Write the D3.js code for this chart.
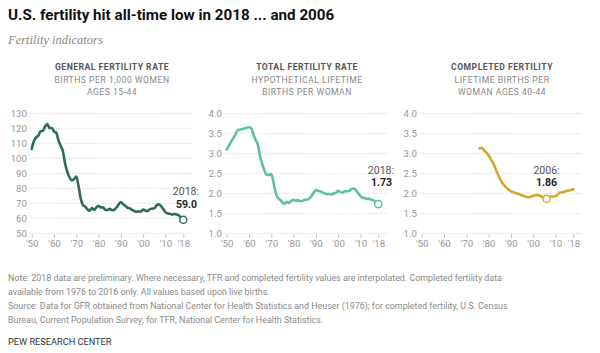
<!DOCTYPE html>
<html>
<head>
<meta charset="utf-8">
<script src="https://cdn.jsdelivr.net/npm/d3@7"></script>
<style>
  body { margin: 0; background: #fff; }
  svg text { font-family: Roboto, "Liberation Sans", sans-serif; }
</style>
</head>
<body>
<svg id="chart" width="600" height="353"></svg>
<script>
// --- data ---
let years = d3.range(1950, 2019);

let gfr = [106.2,111.5,113.9,115.2,118.1,118.3,121.2,122.9,120.2,120.2,
  118.0,117.1,112.0,108.3,104.7,96.3,90.8,87.2,85.2,86.1,
  87.9,81.6,73.1,68.8,67.8,66.0,65.0,66.8,65.5,67.2,
  68.4,67.3,67.3,65.7,65.5,66.3,65.4,65.7,67.2,69.2,
  70.9,69.3,68.4,67.0,66.7,65.6,64.9,64.3,64.6,64.4,
  65.9,65.1,64.8,66.1,66.4,66.7,68.6,69.3,68.1,66.2,
  64.1,63.2,63.0,62.5,62.9,62.5,62.0,60.3,59.0];

let tfr = [3.09,3.19,3.29,3.38,3.48,3.58,3.59,3.61,3.62,3.64,
  3.65,3.63,3.47,3.33,3.21,2.91,2.72,2.56,2.46,2.46,
  2.48,2.27,2.01,1.88,1.84,1.77,1.74,1.79,1.76,1.81,
  1.84,1.81,1.83,1.80,1.81,1.84,1.84,1.87,1.93,2.01,
  2.08,2.06,2.05,2.02,2.00,1.98,1.98,1.97,2.00,2.01,
  2.06,2.03,2.02,2.05,2.05,2.06,2.11,2.12,2.07,2.00,
  1.93,1.89,1.88,1.86,1.86,1.84,1.82,1.77,1.73];

let cfYears = d3.range(1976, 2019);
let cf = [3.12,3.14,3.07,3.02,2.95,2.85,2.76,2.63,2.50,2.38,
  2.27,2.20,2.14,2.09,2.05,2.03,2.01,1.99,1.97,1.95,
  1.93,1.91,1.90,1.92,1.94,1.95,1.96,1.94,1.91,1.88,
  1.86,1.89,1.92,1.92,1.93,1.97,2.02,2.03,2.04,2.06,
  2.07,2.08,2.10];

let xTicks = [1950,1960,1970,1980,1990,2000,2010,2018];
let gfrTicks = [50,60,70,80,90,100,110,120,130];
let rateTicks = [1.0,1.5,2.0,2.5,3.0,3.5,4.0];

let panels = [
  { x0: 0, head: ["GENERAL FERTILITY RATE","BIRTHS PER 1,000 WOMEN","AGES 15-44"],
    yrs: years, vals: gfr, domain: [50,130], ticks: gfrTicks, fmt: d3.format("d"),
    color: "#2e6b58", mark: 2018, markVal: 59.0, label: ["2018:","59.0"], anchor: "end" },
  { x0: 195, head: ["TOTAL FERTILITY RATE","HYPOTHETICAL LIFETIME","BIRTHS PER WOMAN"],
    yrs: years, vals: tfr, domain: [1,4], ticks: rateTicks, fmt: d3.format(".1f"),
    color: "#5cbfa8", mark: 2018, markVal: 1.73, label: ["2018:","1.73"], anchor: "end" },
  { x0: 390, head: ["COMPLETED FERTILITY","LIFETIME BIRTHS PER","WOMAN AGES 40-44"],
    yrs: cfYears, vals: cf, domain: [1,4], ticks: rateTicks, fmt: d3.format(".1f"),
    color: "#d4a82c", mark: 2006, markVal: 1.86, label: ["2006:","1.86"], anchor: "middle" }
];

let svg = d3.select("#chart");

svg.append("text").attr("x", 8).attr("y", 20)
  .style("font-size", "15.2px").style("font-weight", "bold").attr("fill", "#111")
  .text("U.S. fertility hit all-time low in 2018 ... and 2006");

svg.append("text").attr("x", 8).attr("y", 44)
  .style("font-family", "'Liberation Serif', serif").style("font-style", "italic")
  .style("font-size", "12.5px").attr("fill", "#888")
  .text("Fertility indicators");

panels.forEach(p => {
  let g = svg.append("g").attr("transform", "translate(" + p.x0 + ",0)");

  let x = d3.scaleLinear().domain([1950, 2018]).range([31.7, 183.3]);
  let y = d3.scaleLinear().domain(p.domain).range([233.3, 113.3]);

  // headings
  p.head.forEach((h, i) => {
    g.append("text").attr("x", 112).attr("y", 70 + i * 12.5)
      .attr("text-anchor", "middle")
      .style("font-size", "8.6px")
      .style("font-weight", i == 0 ? "bold" : "normal")
      .style("letter-spacing", "0.5px")
      .attr("fill", i == 0 ? "#555" : "#888")
      .text(h);
  });

  // gridlines + y labels
  g.selectAll(".grid").data(p.ticks).enter().append("line")
    .attr("x1", 30).attr("x2", 192)
    .attr("y1", d => y(d)).attr("y2", d => y(d))
    .attr("stroke", "#c8c8c8").attr("stroke-width", 0.9)
    .attr("stroke-dasharray", "1,1.6");

  g.selectAll(".ylab").data(p.ticks).enter().append("text")
    .attr("x", 27).attr("y", d => y(d) + 3.5)
    .attr("text-anchor", "end")
    .style("font-size", "9.7px").attr("fill", "#999")
    .text(d => p.fmt(d));

  // x axis
  let xAxis = d3.axisBottom(x).tickValues(xTicks)
    .tickSize(3).tickPadding(3)
    .tickFormat(d => "'" + String(d).slice(2));
  let ax = g.append("g").attr("transform", "translate(0,234.5)").call(xAxis);
  ax.select(".domain").remove();
  ax.selectAll("line").attr("stroke", "#bbb");
  ax.selectAll("text").style("font-size", "9.7px").attr("fill", "#999")
    .style("font-family", "Roboto, sans-serif");

  // line
  let line = d3.line().x((d, i) => x(p.yrs[i])).y(d => y(d)).curve(d3.curveMonotoneX);
  g.append("path").datum(p.vals).attr("d", line)
    .attr("fill", "none").attr("stroke", p.color).attr("stroke-width", 2.6)
    .attr("stroke-linejoin", "round").attr("stroke-linecap", "round");

  // marker
  g.append("circle").attr("cx", x(p.mark)).attr("cy", y(p.markVal)).attr("r", 3.6)
    .attr("fill", "#fff").attr("stroke", p.color).attr("stroke-width", 1.4);

  let lx = p.anchor == "end" ? 199 : x(p.mark);
  let ly = p.x0 == 0 ? 195 : 173.5;
  g.append("text").attr("x", lx).attr("y", ly).attr("text-anchor", p.anchor)
    .style("font-size", "10.5px").attr("fill", "#555").text(p.label[0]);
  g.append("text").attr("x", p.anchor == "end" ? lx - 2 : lx).attr("y", ly + 12.5)
    .attr("text-anchor", p.anchor)
    .style("font-size", "10.5px").style("font-weight", "bold").attr("fill", "#222")
    .text(p.label[1]);
});

let notes = [
  "Note: 2018 data are preliminary. Where necessary, TFR and completed fertility values are interpolated. Completed fertility data",
  "available from 1976 to 2016 only. All values based upon live births.",
  "Source: Data for GFR obtained from National Center for Health Statistics and Heuser (1976); for completed fertility, U.S. Census",
  "Bureau, Current Population Survey; for TFR, National Center for Health Statistics."
];

svg.selectAll(".note").data(notes).enter().append("text")
  .attr("x", 8).attr("y", (d, i) => 281 + i * 14)
  .style("font-size", "8.9px").attr("fill", "#8a8a8a")
  .text(d => d);

svg.append("text").attr("x", 8).attr("y", 345)
  .style("font-size", "9.2px").attr("fill", "#333")
  .text("PEW RESEARCH CENTER");
</script>
</body>
</html>
